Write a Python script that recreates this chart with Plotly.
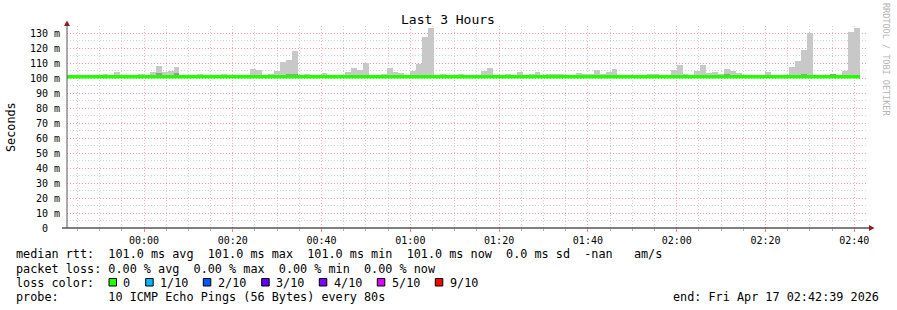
import datetime as dt
import plotly.graph_objects as go

# ---------------- data ----------------
STEP_S = 80
start_time = dt.datetime(2026, 4, 16, 23, 42, 39)
end_time = dt.datetime(2026, 4, 17, 2, 42, 39)

# max ping (smoke top) per 80 s step, ms; None = no visible smoke
smoke_max = [
    None, None, 102.2, None, 102.0, None, 103.0, None, 104.2, 102.0,
    None, 102.0, 103.0, None, 104.0, 108.2, 104.0, 105.0, 107.5, None,
    None, 102.0, 103.0, 102.0, None, 102.0, 103.0, 102.0, None, 102.0,
    102.0, 106.2, 105.5, 102.0, 103.0, 105.0, 110.7, 112.2, 118.0, None,
    103.0, 102.0, None, 103.7, None, None, None, 104.0, 106.9, 105.5,
    110.2, None, None, 103.0, 107.0, 104.0, 103.5, None, 105.0, 109.6,
    127.6, 133.6, None, 103.0, None, None, 103.0, 102.0, None, None,
    105.0, 107.0, None, None, 103.0, 102.0, 104.0, 102.0, 103.0, 104.0,
    None, 103.0, 103.0, 103.0, None, 102.0, 103.7, 103.0, 103.0, 105.5,
    103.0, 104.0, 106.0, None, None, None, None, None, 103.0, 103.0,
    None, None, 105.5, 108.9, 103.0, None, 105.0, 108.9, 103.7, 104.0,
    103.0, 106.0, 105.0, 103.7, None, None, None, None, 104.0, None,
    102.0, 102.0, 107.6, 111.6, 118.9, 130.2, None, None, None, 103.0,
    None, 105.0, 130.9, 133.6,
]
# darker inner smoke band top per step, ms
smoke_dark = {
    15: 103.6, 18: 103.3, 29: 102.0, 36: 102.3, 37: 103.0, 38: 103.0,
    48: 102.3, 50: 102.3, 102: 102.3, 109: 102.3, 111: 103.0, 113: 102.3,
    118: 102.3, 124: 103.0, 129: 103.0, 131: 102.3,
}
median_rtt = [101.0] * len(smoke_max)

y_tick_vals = [0, 10, 20, 30, 40, 50, 60, 70, 80, 90, 100, 110, 120, 130]
y_tick_text = ["0\u00a0\u00a0"] + [f"{v} m" for v in y_tick_vals[1:]]

loss_labels = ["0", "1/10", "2/10", "3/10", "4/10", "5/10", "9/10"]
loss_colors = ["#26ff00", "#00b8ff", "#0059ff", "#5e00ff", "#7e00ff", "#dd00ff", "#ff0000"]

title_text = "Last 3 Hours"
y_title = "Seconds"
line_rtt = "median rtt:  101.0 ms avg  101.0 ms max  101.0 ms min  101.0 ms now  0.0 ms sd  -nan   am/s"
line_loss = "packet loss: 0.00 % avg  0.00 % max  0.00 % min  0.00 % now"
line_color = "loss color:"
line_probe = "probe:       10 ICMP Echo Pings (56 Bytes) every 80s"
line_end = "end: Fri Apr 17 02:42:39 2026"
watermark = "RRDTOOL / TOBI OETIKER"

# ---------------- geometry ----------------
W, H = 897, 310
L, R, T, B = 67, 866, 26, 228
PW, PH = R - L, B - T

def fx(x):
    return (x - L) / PW

def fy(y):
    return (B - y) / PH

MONO = "DejaVu Sans Mono"

n = len(smoke_max)
edges = [start_time + dt.timedelta(seconds=STEP_S * i) for i in range(n + 1)]
centers = [e + dt.timedelta(seconds=STEP_S / 2) for e in edges[:-1]]

fig = go.Figure()

fig.add_trace(go.Bar(
    x=centers,
    y=[(v - 100.0) if v is not None else None for v in smoke_max],
    base=100.0,
    width=STEP_S * 1000,
    marker=dict(color="#c8c8c8", line=dict(width=0)),
    hoverinfo="skip",
))
fig.add_trace(go.Bar(
    x=[centers[i] for i in smoke_dark],
    y=[v - 100.0 for v in smoke_dark.values()],
    base=100.0,
    width=STEP_S * 1000,
    marker=dict(color="#9a9a9a", line=dict(width=0)),
    hoverinfo="skip",
))
fig.add_trace(go.Scatter(
    x=edges,
    y=median_rtt + [median_rtt[-1]],
    mode="lines",
    line=dict(color="#22ff00", width=3.5, shape="hv"),
    hoverinfo="skip",
))

major_grid = "rgba(255,120,120,0.6)"
minor_grid = "rgba(175,175,175,0.55)"

fig.update_layout(
    width=W, height=H,
    margin=dict(l=L, r=W - R, t=T, b=H - B, pad=0),
    paper_bgcolor="white", plot_bgcolor="white",
    showlegend=False, barmode="overlay", bargap=0,
    font=dict(family=MONO, size=10, color="black"),
)
fig.update_xaxes(
    type="date",
    range=[start_time, end_time],
    tick0="2026-04-17 00:00:00", dtick=20 * 60 * 1000,
    tickformat="%H:%M",
    tickfont=dict(family=MONO, size=10, color="black"),
    ticks="outside", ticklen=3, tickcolor="rgba(240,120,120,0.9)",
    showgrid=True, gridcolor=major_grid, griddash="1px,2px", gridwidth=1,
    minor=dict(dtick=5 * 60 * 1000, tick0="2026-04-17 00:00:00", showgrid=True,
               gridcolor=minor_grid, griddash="1px,2px", ticks="outside",
               ticklen=2, tickcolor="#b0b0b0"),
    showline=False, zeroline=False, fixedrange=True,
)
fig.update_yaxes(
    range=[0, 135],
    tickvals=y_tick_vals, ticktext=y_tick_text,
    tickfont=dict(family=MONO, size=10, color="black"),
    ticks="", ticklabelstandoff=6,
    showgrid=True, gridcolor=major_grid, griddash="1px,2px", gridwidth=1,
    minor=dict(dtick=5, showgrid=True, gridcolor=minor_grid, griddash="1px,2px"),
    showline=False, zeroline=False, fixedrange=True,
)

shapes = [
    # x axis
    dict(type="line", xref="paper", yref="paper", x0=fx(62), x1=fx(869), y0=fy(228), y1=fy(228),
         line=dict(color="black", width=1)),
    # y axis
    dict(type="line", xref="paper", yref="paper", x0=fx(67), x1=fx(67), y0=fy(228), y1=fy(25),
         line=dict(color="#555555", width=1)),
    # arrows
    dict(type="path", xref="paper", yref="paper",
         path=f"M {fx(67)} {fy(20.5)} L {fx(64)} {fy(26)} L {fx(70)} {fy(26)} Z",
         fillcolor="#901e1e", line=dict(width=0)),
    dict(type="path", xref="paper", yref="paper",
         path=f"M {fx(874.5)} {fy(228)} L {fx(869)} {fy(225)} L {fx(869)} {fy(231)} Z",
         fillcolor="#901e1e", line=dict(width=0)),
]

box_x = [109, 145.7, 203.3, 261.7, 319.3, 377.3, 435.3]
text_x = [122, 159, 217, 275, 333, 391, 449]
for bx, c in zip(box_x, loss_colors):
    shapes.append(dict(type="rect", xref="paper", yref="paper",
                       x0=fx(bx), x1=fx(bx + 7.5), y0=fy(286), y1=fy(278.5),
                       fillcolor=c, line=dict(color="black", width=1)))
fig.update_layout(shapes=shapes)

def ann(x, y, text, size=11.8, anchor="left", color="black", angle=0, yanchor="middle"):
    fig.add_annotation(xref="paper", yref="paper", x=fx(x), y=fy(y), text=text,
                       showarrow=False, xanchor=anchor, yanchor=yanchor, textangle=angle,
                       font=dict(family=MONO, size=size, color=color), borderpad=0)

ann(448, 19.5, title_text, size=13, anchor="center")
ann(11, 127, y_title, size=11.8, anchor="center", angle=-90)
ann(15, 254.5, line_rtt.replace(" ", "\u00a0"))
ann(15, 268.5, line_loss.replace(" ", "\u00a0"))
ann(15, 282.5, line_color)
ann(15, 296.5, line_probe.replace(" ", "\u00a0"))
ann(880.5, 296.5, line_end.replace(" ", "\u00a0"), anchor="right")
for tx, lab in zip(text_x, loss_labels):
    ann(tx, 282.5, lab)
ann(886, 59, watermark.replace(" ", "\u00a0"), size=8.5, anchor="center", color="#b4b4b4", angle=90)

fig.write_html("out.html")
